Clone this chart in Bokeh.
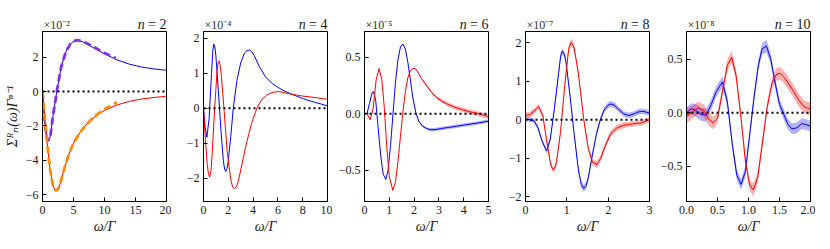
from bokeh.plotting import figure
from bokeh.layouts import row, column
from bokeh.models import FixedTicker, Span, Range1d, Label
from bokeh.embed import file_html
from bokeh.resources import INLINE

# ---------------- data (values in units of the panel's scale factor) -------------
# n = 2  (x 1e-2)
p1_blue_x = [0, 0.3, 0.6, 0.8, 0.97, 1.15, 1.3, 1.7, 2.3, 3.0, 3.4, 3.8, 4.5, 5.0, 5.6, 6.5, 7.5, 8.5, 10, 12, 14, 16, 18, 20]
p1_blue_y = [0, -1.6, -2.5, -2.78, -2.85, -2.75, -2.5, -1.4, 0, 1.4, 1.9, 2.35, 2.78, 2.92, 2.98, 2.9, 2.7, 2.5, 2.2, 1.85, 1.6, 1.43, 1.32, 1.24]
p1_red_x = [0, 0.3, 0.7, 1.2, 1.7, 2.0, 2.3, 2.6, 2.9, 3.5, 4.2, 5, 6, 7, 8, 9, 10, 12, 14, 16, 18, 20]
p1_red_y = [0, -1.3, -2.8, -4.5, -5.5, -5.72, -5.76, -5.62, -5.3, -4.5, -3.7, -3.0, -2.4, -1.95, -1.6, -1.32, -1.1, -0.78, -0.57, -0.43, -0.34, -0.27]
p1_purple_x = [0, 0.3, 0.6, 0.8, 0.97, 1.15, 1.3, 1.7, 2.3, 3.0, 3.4, 3.8, 4.5, 5.0, 5.6, 6.5, 7.5, 8.5, 10, 11.8]
p1_purple_y = [0, -1.6, -2.5, -2.78, -2.85, -2.75, -2.5, -1.4, 0, 1.4, 1.9, 2.35, 2.78, 2.93, 3.0, 2.93, 2.75, 2.55, 2.25, 1.95]
p1_orange_x = [0, 0.3, 0.7, 1.2, 1.7, 2.0, 2.3, 2.6, 2.9, 3.5, 4.2, 5, 6, 7, 8, 9, 10, 12]
p1_orange_y = [0, -1.3, -2.8, -4.5, -5.5, -5.72, -5.76, -5.62, -5.3, -4.5, -3.7, -3.0, -2.4, -1.95, -1.58, -1.28, -1.03, -0.62]

# n = 4  (x 1e-4)
p2_blue_x = [0, 0.13, 0.27, 0.45, 0.65, 0.75, 0.83, 0.92, 1.0, 1.2, 1.4, 1.6, 1.7, 1.8, 1.9, 2.0, 2.2, 2.4, 2.7, 3.0, 3.3, 3.5, 3.7, 3.9, 4.1, 4.5, 5.0, 5.5, 6.0, 6.5, 7.0, 7.5, 8.0, 8.5, 9.0, 9.5, 10]
p2_blue_y = [0, -0.55, -0.83, -0.3, 1.0, 1.65, 1.84, 1.75, 1.5, 0.5, -0.6, -1.5, -1.74, -1.81, -1.72, -1.5, -0.8, 0, 0.8, 1.3, 1.58, 1.65, 1.67, 1.62, 1.5, 1.2, 0.9, 0.72, 0.6, 0.5, 0.42, 0.35, 0.28, 0.22, 0.17, 0.12, 0.07]
p2_red_x = [0, 0.15, 0.3, 0.4, 0.5, 0.6, 0.7, 0.9, 1.1, 1.18, 1.26, 1.35, 1.45, 1.65, 1.9, 2.2, 2.35, 2.5, 2.65, 2.8, 3.1, 3.5, 3.9, 4.3, 4.7, 5.1, 5.6, 6.07, 6.5, 7.0, 7.5, 8.0, 8.5, 9.0, 9.5, 10]
p2_red_y = [0, -0.9, -1.6, -1.88, -1.97, -1.8, -1.3, 0, 1.1, 1.3, 1.36, 1.22, 0.9, 0, -1.2, -2.05, -2.25, -2.31, -2.25, -2.1, -1.6, -0.95, -0.4, 0, 0.25, 0.38, 0.46, 0.48, 0.45, 0.41, 0.38, 0.35, 0.33, 0.31, 0.28, 0.26]

# n = 6  (x 1e-5)
p3_blue_x = [0.1, 0.2, 0.3, 0.36, 0.45, 0.55, 0.65, 0.75, 0.86, 0.95, 1.05, 1.15, 1.25, 1.35, 1.45, 1.55, 1.65, 1.75, 1.85, 1.95, 2.08, 2.2, 2.35, 2.5, 2.65, 2.85, 3.1, 3.4, 3.7, 4.0, 4.3, 4.6, 5.0]
p3_blue_y = [0, 0.09, 0.18, 0.197, 0.12, -0.12, -0.36, -0.53, -0.58, -0.5, -0.28, 0.0, 0.28, 0.48, 0.59, 0.615, 0.57, 0.45, 0.3, 0.14, 0, -0.07, -0.11, -0.13, -0.14, -0.14, -0.13, -0.12, -0.11, -0.1, -0.09, -0.08, -0.065]
p3_blue_err = [0.003, 0.003, 0.003, 0.003, 0.003, 0.003, 0.003, 0.003, 0.003, 0.003, 0.003, 0.003, 0.003, 0.003, 0.003, 0.003, 0.003, 0.003, 0.004, 0.005, 0.006, 0.008, 0.01, 0.012, 0.014, 0.015, 0.015, 0.015, 0.015, 0.015, 0.015, 0.015, 0.015]
p3_red_x = [0.1, 0.23, 0.35, 0.47, 0.59, 0.7, 0.8, 0.9, 1.0, 1.14, 1.25, 1.35, 1.45, 1.55, 1.65, 1.75, 1.85, 1.95, 2.04, 2.15, 2.3, 2.5, 2.7, 2.9, 3.1, 3.3, 3.6, 3.9, 4.2, 4.5, 4.8, 5.0]
p3_red_y = [0, -0.053, 0.05, 0.3, 0.4, 0.3, 0.05, -0.3, -0.55, -0.676, -0.6, -0.42, -0.2, 0.02, 0.2, 0.32, 0.38, 0.4, 0.4, 0.37, 0.31, 0.25, 0.19, 0.145, 0.115, 0.09, 0.06, 0.04, 0.02, 0.005, -0.012, -0.024]
p3_red_err = [0.003, 0.003, 0.003, 0.003, 0.003, 0.003, 0.003, 0.003, 0.003, 0.003, 0.003, 0.003, 0.003, 0.003, 0.003, 0.003, 0.004, 0.005, 0.006, 0.007, 0.008, 0.01, 0.012, 0.014, 0.016, 0.018, 0.02, 0.02, 0.021, 0.022, 0.022, 0.022]

# n = 8  (x 1e-7)
p4_blue_x = [0, 0.1, 0.2, 0.3, 0.4, 0.51, 0.6, 0.7, 0.8, 0.85, 0.89, 0.94, 0.98, 1.08, 1.18, 1.28, 1.35, 1.41, 1.47, 1.52, 1.62, 1.72, 1.81, 1.9, 2.0, 2.06, 2.15, 2.25, 2.38, 2.5, 2.62, 2.72, 2.82, 2.92, 3.0]
p4_blue_y = [0.02, 0.0, -0.02, -0.2, -0.55, -0.81, -0.5, 0.3, 1.2, 1.65, 1.78, 1.7, 1.5, 0.6, -0.4, -1.3, -1.68, -1.78, -1.7, -1.5, -0.9, -0.35, 0, 0.25, 0.38, 0.41, 0.38, 0.27, 0.15, 0.11, 0.15, 0.2, 0.22, 0.2, 0.17]
p4_blue_err = [0.06, 0.06, 0.06, 0.06, 0.06, 0.06, 0.06, 0.07, 0.07, 0.08, 0.08, 0.08, 0.07, 0.07, 0.07, 0.08, 0.09, 0.09, 0.09, 0.08, 0.07, 0.07, 0.07, 0.07, 0.08, 0.08, 0.08, 0.07, 0.07, 0.07, 0.07, 0.07, 0.07, 0.07, 0.07]
p4_red_x = [0, 0.1, 0.2, 0.32, 0.42, 0.52, 0.6, 0.63, 0.67, 0.71, 0.75, 0.85, 0.95, 1.03, 1.06, 1.1, 1.14, 1.18, 1.28, 1.41, 1.52, 1.62, 1.73, 1.82, 1.92, 2.06, 2.2, 2.35, 2.5, 2.65, 2.8, 2.9, 3.0]
p4_red_y = [0.11, 0.13, 0.22, 0.34, 0.1, -0.6, -1.1, -1.22, -1.29, -1.25, -1.1, -0.3, 0.9, 1.7, 1.9, 2.0, 1.96, 1.85, 1.2, 0, -0.75, -1.1, -1.16, -1.0, -0.7, -0.36, -0.22, -0.15, -0.12, -0.1, -0.08, -0.04, 0.0]
p4_red_err = [0.08, 0.08, 0.07, 0.07, 0.07, 0.07, 0.07, 0.07, 0.07, 0.07, 0.07, 0.07, 0.08, 0.09, 0.1, 0.1, 0.1, 0.09, 0.08, 0.07, 0.07, 0.08, 0.09, 0.09, 0.08, 0.08, 0.08, 0.08, 0.07, 0.07, 0.07, 0.07, 0.07]

# n = 10  (x 1e-8)
p5_blue_x = [0, 0.08, 0.16, 0.24, 0.32, 0.4, 0.48, 0.58, 0.66, 0.74, 0.81, 0.88, 0.95, 1.02, 1.09, 1.16, 1.22, 1.29, 1.36, 1.43, 1.5, 1.56, 1.63, 1.7, 1.78, 1.86, 1.93, 2.0]
p5_blue_y = [0.0, 0.04, 0.02, -0.015, -0.02, 0.08, 0.2, 0.29, 0.1, -0.3, -0.58, -0.67, -0.55, -0.2, 0.15, 0.45, 0.6, 0.625, 0.5, 0.28, 0.08, 0, -0.1, -0.15, -0.14, -0.1, -0.11, -0.125]
p5_blue_err = [0.05, 0.05, 0.06, 0.06, 0.06, 0.05, 0.05, 0.05, 0.05, 0.05, 0.05, 0.05, 0.05, 0.05, 0.05, 0.05, 0.05, 0.06, 0.05, 0.05, 0.05, 0.05, 0.05, 0.05, 0.05, 0.05, 0.05, 0.05]
p5_red_x = [0, 0.08, 0.19, 0.28, 0.36, 0.43, 0.5, 0.58, 0.66, 0.73, 0.8, 0.88, 0.95, 1.02, 1.08, 1.15, 1.22, 1.3, 1.38, 1.45, 1.51, 1.58, 1.65, 1.73, 1.81, 1.89, 1.95, 2.0]
p5_red_y = [-0.025, 0.0, 0.047, 0.02, -0.06, -0.094, -0.05, 0.2, 0.45, 0.52, 0.35, -0.05, -0.45, -0.68, -0.72, -0.6, -0.3, 0.05, 0.28, 0.36, 0.37, 0.33, 0.27, 0.2, 0.12, 0.06, 0.045, 0.04]
p5_red_err = [0.07, 0.06, 0.06, 0.06, 0.06, 0.06, 0.05, 0.05, 0.05, 0.06, 0.05, 0.05, 0.05, 0.05, 0.06, 0.05, 0.05, 0.05, 0.05, 0.06, 0.06, 0.06, 0.06, 0.06, 0.06, 0.06, 0.06, 0.06]

n_values = ["2", "4", "6", "8", "10"]
scales = ["×10⁻²", "×10⁻⁴", "×10⁻⁵", "×10⁻⁷", "×10⁻⁸"]
x_ranges = [(0, 20), (0, 10), (0, 5), (0, 3), (0, 2)]
y_ranges = [(-6.4, 3.5), (-2.67, 2.2), (-0.774, 0.726), (-2.12, 2.29), (-0.83, 0.762)]
x_ticks = [[0, 5, 10, 15, 20], [0, 2, 4, 6, 8, 10], [0, 1, 2, 3, 4, 5], [0, 1, 2, 3], [0.0, 0.5, 1.0, 1.5, 2.0]]
y_ticks = [[-6, -4, -2, 0, 2], [-2, -1, 0, 1, 2], [-0.5, 0.0, 0.5], [-2, -1, 0, 1, 2], [-0.5, 0.0, 0.5]]
x_fmt = ["{:.0f}", "{:.0f}", "{:.0f}", "{:.0f}", "{:.1f}"]
y_fmt = ["{:.0f}", "{:.0f}", "{:.1f}", "{:.0f}", "{:.1f}"]

FONT = "Liberation Serif"
BLUE = "#0000ff"
RED = "#ff0000"

# layout constants (pixels)
FW, FH = 124, 170
TOP = 31
LEFT0, LEFT, RIGHT = 42, 32, 5
BOTTOM = 38
TITLE_PX = 14


def fmt(f, v):
    s = f.format(v)
    if s.startswith("-"):
        s = "−" + s[1:]
    if s == "−0" or s == "−0.0":
        s = s[1:]
    return s


def make_fig(i):
    first = i == 0
    p = figure(frame_width=FW, frame_height=FH,
               min_border_left=LEFT0 if first else LEFT, min_border_right=RIGHT,
               min_border_top=0, min_border_bottom=BOTTOM,
               x_range=x_ranges[i], y_range=y_ranges[i],
               output_backend="svg", toolbar_location=None)
    p.background_fill_color = "white"
    p.border_fill_color = "white"
    p.outline_line_color = "black"
    p.outline_line_width = 1
    p.outline_line_alpha = 1
    p.grid.visible = False
    for ax, ticks, f in ((p.xaxis[0], x_ticks[i], x_fmt[i]), (p.yaxis[0], y_ticks[i], y_fmt[i])):
        ax.ticker = FixedTicker(ticks=ticks, minor_ticks=[])
        ax.major_label_overrides = {t: fmt(f, t) for t in ticks}
        ax.major_tick_in = 4
        ax.major_tick_out = 0
        ax.minor_tick_in = 0
        ax.minor_tick_out = 0
        ax.major_tick_line_color = "black"
        ax.axis_line_color = "black"
        ax.major_label_text_font = FONT
        ax.major_label_text_font_size = "12px"
        ax.major_label_text_color = "#1a1a1a"
        ax.major_label_standoff = 4
        ax.axis_label_text_font = FONT
        ax.axis_label_text_font_style = "italic"
        ax.axis_label_text_font_size = "14px"
        ax.axis_label_text_color = "#1a1a1a"
    p.xaxis.axis_label = "ω/Γ"
    p.xaxis.axis_label_standoff = 2
    if first:
        p.yaxis.axis_label = "Σᴿₙ(ω)Γⁿ⁻¹"
        p.yaxis.axis_label_standoff = 3
        p.yaxis.axis_label_text_font_size = "14px"
    p.add_layout(Span(location=0, dimension="width", line_color="black",
                      line_width=2, line_dash="2 3"))
    return p


def band(p, xs, ys, es, color):
    lo = [y - e for y, e in zip(ys, es)]
    hi = [y + e for y, e in zip(ys, es)]
    p.varea(x=xs, y1=lo, y2=hi, fill_color=color, fill_alpha=0.3)


figs = [make_fig(i) for i in range(5)]

# panel 1
f = figs[0]
f.line(p1_blue_x, p1_blue_y, line_color=BLUE, line_width=1)
f.line(p1_red_x, p1_red_y, line_color=RED, line_width=1)
f.line(p1_purple_x, p1_purple_y, line_color="#8a2be2", line_width=2.8, line_dash="7 4")
f.line(p1_orange_x, p1_orange_y, line_color="#ff8c00", line_width=2.8, line_dash="7 4")

# panel 2
f = figs[1]
f.line(p2_blue_x, p2_blue_y, line_color=BLUE, line_width=1)
f.line(p2_red_x, p2_red_y, line_color=RED, line_width=1)

# panel 3
f = figs[2]
band(f, p3_blue_x, p3_blue_y, p3_blue_err, BLUE)
band(f, p3_red_x, p3_red_y, p3_red_err, RED)
f.line(p3_blue_x, p3_blue_y, line_color=BLUE, line_width=1)
f.line(p3_red_x, p3_red_y, line_color=RED, line_width=1)

# panel 4
f = figs[3]
band(f, p4_blue_x, p4_blue_y, p4_blue_err, BLUE)
band(f, p4_red_x, p4_red_y, p4_red_err, RED)
f.line(p4_blue_x, p4_blue_y, line_color=BLUE, line_width=1)
f.line(p4_red_x, p4_red_y, line_color=RED, line_width=1)

# panel 5
f = figs[4]
band(f, p5_blue_x, p5_blue_y, p5_blue_err, BLUE)
band(f, p5_red_x, p5_red_y, p5_red_err, RED)
f.line(p5_blue_x, p5_blue_y, line_color=BLUE, line_width=1)
f.line(p5_red_x, p5_red_y, line_color=RED, line_width=1)

# header strip holding the panel titles and scale factors (pixel coordinates, y down)
total_w = LEFT0 + FW + RIGHT + 4 * (LEFT + FW + RIGHT)
frame_lefts = [LEFT0 + i * (FW + RIGHT + LEFT) for i in range(5)]
head = figure(width=total_w, height=TOP, x_range=Range1d(0, total_w), y_range=Range1d(TOP, 0),
              x_axis_type=None, y_axis_type=None, min_border=0,
              output_backend="svg", toolbar_location=None)
head.outline_line_color = None
head.grid.visible = False
head.background_fill_color = "white"
head.border_fill_color = "white"
for fl, nv, sc in zip(frame_lefts, n_values, scales):
    rhs = "= " + nv
    rhs_w = TITLE_PX * (0.56 + 0.25 + 0.5 * len(nv))
    head.add_layout(Label(x=fl + FW, y=TOP - 7, text=rhs, text_align="right",
                          text_baseline="alphabetic", text_font=FONT,
                          text_font_size=f"{TITLE_PX}px", text_color="#1a1a1a"))
    head.add_layout(Label(x=fl + FW - rhs_w - 0.25 * TITLE_PX, y=TOP - 7, text="n",
                          text_align="right", text_baseline="alphabetic", text_font=FONT,
                          text_font_style="italic",
                          text_font_size=f"{TITLE_PX}px", text_color="#1a1a1a"))
    head.add_layout(Label(x=fl + 1, y=TOP - 7, text=sc, text_align="left",
                          text_baseline="alphabetic", text_font=FONT,
                          text_font_size="12px", text_color="#333333"))

layout = column(head, row(*figs, spacing=0), spacing=0)
open("out.html", "w").write(file_html(layout, INLINE))
